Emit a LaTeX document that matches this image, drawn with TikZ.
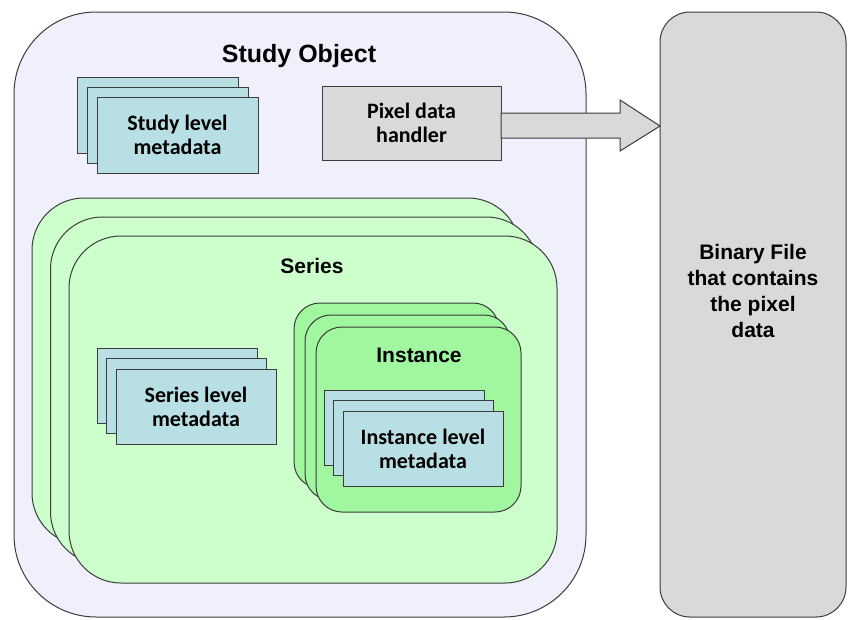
\documentclass[tikz,border=0pt]{standalone}
\usepackage{fontspec}
\setmainfont{Liberation Sans}
\newfontfamily\carl{Carlito}
\usetikzlibrary{calc}
\definecolor{edgecol}{HTML}{3C3C3C}
\definecolor{studyfill}{HTML}{F0F0FC}
\definecolor{seriesfill}{HTML}{CCFFCC}
\definecolor{instfill}{HTML}{A0F7A0}
\definecolor{metafill}{HTML}{B8DFE3}
\definecolor{grayfill}{HTML}{D9D9D9}
\tikzset{
  base/.style={draw=edgecol, line width=1pt, inner sep=0pt, outer sep=0pt, rectangle},
  studybox/.style={base, fill=studyfill, rounded corners=82pt},
  binbox/.style={base, fill=grayfill, rounded corners=30pt},
  seriesbox/.style={base, fill=seriesfill, rounded corners=52pt, minimum width=488pt, minimum height=347pt},
  instbox/.style={base, fill=instfill, rounded corners=26pt, minimum width=205pt, minimum height=185pt},
  metabox/.style={base, fill=metafill, minimum width=160pt, minimum height=75pt, align=center, font=\carl\bfseries\fontsize{22}{24}\selectfont},
  pixbox/.style={base, fill=grayfill, minimum width=179pt, minimum height=74pt, align=center, font=\carl\bfseries\fontsize{22}{24}\selectfont},
  blockarrow/.style={draw=edgecol, line width=1pt, fill=grayfill, line join=miter},
  titletext/.style={anchor=base, inner sep=0pt, font=\bfseries\fontsize{25}{30}\selectfont},
  subtitle/.style={anchor=base, inner sep=0pt, font=\bfseries\fontsize{21}{25}\selectfont},
}
\begin{document}
\begin{tikzpicture}[x=1pt,y=-1pt]
\useasboundingbox[fill=white] (0,0) rectangle (848,619);
% study object
\node[studybox, minimum width=572pt, minimum height=605pt] (study) at (300,314.5) {};
% series stack
\node[seriesbox] (ser1) at (276,371.5) {};
\node[seriesbox] (ser2) at (294.5,390.5) {};
\node[seriesbox] (ser3) at (313,409.5) {};
% series metadata
\node[metabox] (sm1) at (177,385.5) {};
\node[metabox] (sm2) at (186.5,396) {};
\node[metabox] (sm3) at (196,406.5) {Series level\\metadata};
% instance stack
\node[instbox] (in1) at (396.5,395.5) {};
\node[instbox] (in2) at (407.5,407.5) {};
\node[instbox] (in3) at (418.5,419.5) {};
% instance metadata
\node[metabox] (im1) at (404,427.5) {};
\node[metabox] (im2) at (413.5,438) {};
\node[metabox] (im3) at (423,448.5) {Instance level\\metadata};
% study metadata
\node[metabox, minimum width=161pt, minimum height=76pt] (stm1) at (157.5,115) {};
\node[metabox, minimum width=161pt, minimum height=76pt] (stm2) at (167.5,125) {};
\node[metabox, minimum width=161pt, minimum height=76pt] (stm3) at (177.5,135) {Study level\\metadata};
% pixel data handler
\node[pixbox] (pix) at (411.5,123) {Pixel data\\handler};
% binary file
\node[binbox, minimum width=186pt, minimum height=605pt] (bin) at (753,314.5) {};
\node[align=center, inner sep=0pt, font=\bfseries\fontsize{21}{26}\selectfont] (bintext) at (bin.center |- 0,291) {Binary File\\that contains\\the pixel\\data};
% block arrow
\draw[blockarrow] (pix.east |- 0,113) -- (620,113) -- (620,100) -- (bin.west |- 0,126) -- (620,151) -- (620,138) -- (pix.east |- 0,138) -- cycle;
% titles
\node[titletext] (studytitle) at (299,62) {Study Object};
\node[subtitle] (sertitle) at (312,273) {Series};
\node[subtitle] (insttitle) at (419,362) {Instance};
\end{tikzpicture}
\end{document}
